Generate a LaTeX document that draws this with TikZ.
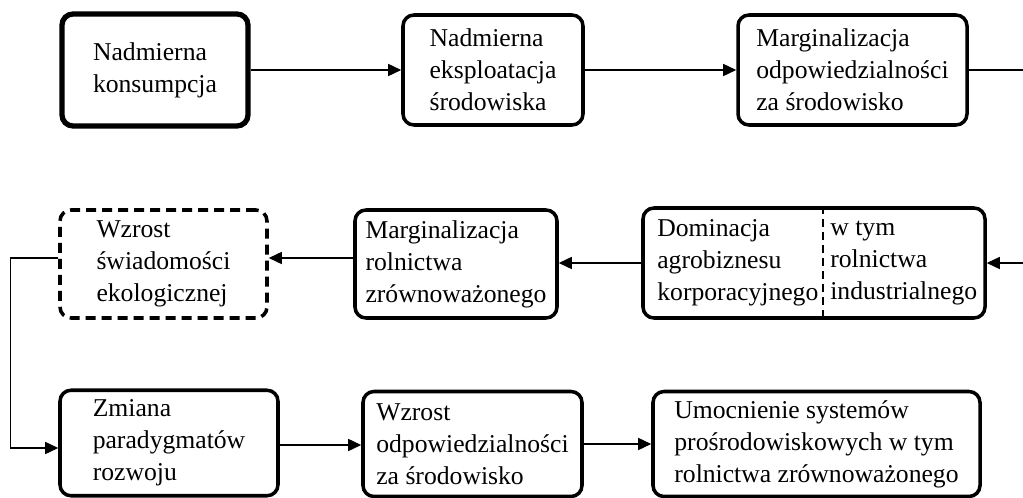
\documentclass[tikz,border=0pt]{standalone}
\usepackage{fontspec}
\setmainfont{Liberation Serif}
\usepackage{tikz}
\usetikzlibrary{arrows.meta,calc}

\begin{document}
\begin{tikzpicture}[
    font=\fontsize{14.6}{18.2}\selectfont,
    box/.style={draw, rounded corners=2.2mm, line width=2pt, align=left,
                inner sep=0pt},
    thickbox/.style={box, line width=3pt},
    dashbox/.style={box, dash pattern=on 2mm off 1.2mm},
    ar/.style={-{Triangle[length=2.6mm,width=2.4mm]}, line width=0.8pt},
]
\useasboundingbox (0,0) rectangle (20.46,-9.96);
% --- first row ---
\node[thickbox, minimum width=3.72cm, minimum height=2.24cm] (kons) at (3.10,-1.40)
  {Nadmierna\\konsumpcja};
\node[box, minimum width=3.60cm, minimum height=2.20cm] (eksp) at (9.86,-1.40)
  {Nadmierna\\eksploatacja\\środowiska};
\node[box, minimum width=4.58cm, minimum height=2.20cm] (margodp) at (17.05,-1.40)
  {Marginalizacja\\odpowiedzialności\\za środowisko};
% --- second row ---
\node[box, minimum width=6.84cm, minimum height=2.20cm] (dom) at (16.28,-5.26) {};
\node[anchor=west, align=left, inner sep=0pt] (domL) at (13.14,-5.26)
  {Dominacja\\agrobiznesu\\korporacyjnego};
\node[anchor=west, align=left, inner sep=0pt] (domR) at (16.60,-5.26)
  {w tym\\rolnictwa\\industrialnego};
\coordinate (split) at (16.46,0);
\draw[line width=1.1pt, dash pattern=on 1.6mm off 1mm]
  (dom.north -| split) -- (dom.south -| split);
\node[box, minimum width=4.04cm, minimum height=2.16cm] (margrol) at (9.12,-5.28)
  {Marginalizacja\\rolnictwa\\zrównoważonego};
\node[dashbox, minimum width=4.14cm, minimum height=2.16cm] (swiad) at (3.27,-5.28)
  {Wzrost\\świadomości\\ekologicznej};
% --- third row ---
\node[box, minimum width=4.36cm, minimum height=2.11cm] (param) at (3.38,-8.86)
  {Zmiana\\paradygmatów\\rozwoju};
\node[box, minimum width=4.38cm, minimum height=2.10cm] (odpow) at (9.45,-8.88)
  {Wzrost\\odpowiedzialności\\za środowisko};
\node[box, minimum width=6.54cm, minimum height=2.10cm] (umoc) at (16.33,-8.88)
  {Umocnienie systemów\\prośrodowiskowych w tym\\rolnictwa zrównoważonego};
% --- connectors ---
\coordinate (edge) at (20.70,0);
\draw[ar] (kons.east) -- (eksp.west);
\draw[ar] (eksp.east) -- (margodp.west);
\draw[ar] (margodp.east) -- (margodp.east -| edge) |- (dom.east);
\draw[ar] (dom.west) -- (margrol.east |- dom.west);
\draw[ar] ([yshift=0.12cm]margrol.west) -- ([yshift=0.12cm]swiad.east);
\draw[ar] ([yshift=0.12cm]swiad.west) -- ++(-0.96,0) |- ([yshift=-0.10cm]param.west);
\draw[ar] ([yshift=-0.04cm]param.east) -- ([yshift=-0.04cm]param.east -| odpow.west);
\draw[ar] (odpow.east) -- (odpow.east -| umoc.west);
\end{tikzpicture}
\end{document}
